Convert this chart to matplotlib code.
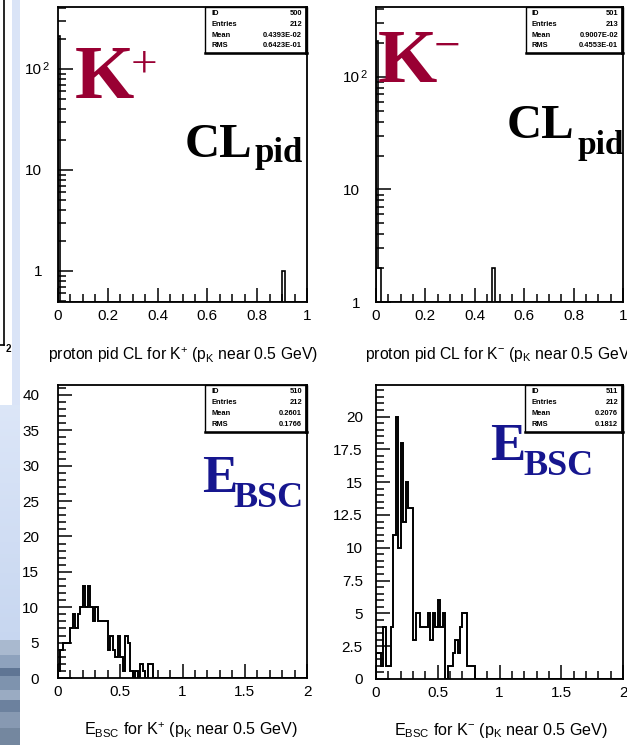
import numpy as np
import matplotlib
matplotlib.use("Agg")
import matplotlib.pyplot as plt
from matplotlib.patches import Rectangle
from matplotlib.lines import Line2D
from matplotlib.ticker import (FixedLocator, MultipleLocator, LogLocator,
                               FixedFormatter, NullFormatter, FuncFormatter)

plt.rcParams["font.family"] = ["Liberation Sans", "DejaVu Sans"]
plt.rcParams["mathtext.fontset"] = "custom"
plt.rcParams["mathtext.rm"] = "Liberation Sans"
plt.rcParams["mathtext.it"] = "Liberation Sans"
plt.rcParams["mathtext.bf"] = "Liberation Sans:bold"

W, H = 627, 745

# ---------------- histogram contents ----------------
# proton pid confidence level, 100 bins on [0, 1]
pid_nbins = 100
kp_pid_bins = [0, 90]
kp_pid_counts = [211, 1]
km_pid_bins = [0, 1, 47]
km_pid_counts = [209, 2, 2]

# barrel shower counter energy, 100 bins on [0, 2] (first 40 bins listed)
ebsc_nbins = 100
kp_ebsc_counts = [1, 4, 5, 5, 5, 7, 9, 7, 9, 10,
                  13, 10, 13, 10, 8, 10, 8, 8, 8, 8,
                  4, 6, 4, 3, 6, 3, 1, 6, 5, 1,
                  0, 1, 0, 2, 1, 0, 2, 2, 0, 0]
km_ebsc_counts = [2, 2, 1, 4, 1, 1, 4, 11, 20, 10,
                  18, 12, 15, 13, 13, 3, 5, 5, 4, 4,
                  4, 5, 3, 5, 4, 6, 4, 5, 0, 1,
                  1, 2, 3, 2, 4, 5, 5, 1, 1, 1]

# statistics boxes
stat_ids = ["500", "501", "510", "511"]
stat_entries = ["212", "213", "212", "212"]
stat_means = ["0.4393E-02", "0.9007E-02", "0.2601", "0.2076"]
stat_rms = ["0.6423E-01", "0.4553E-01", "0.1766", "0.1812"]

# axis labels
pid_xticks = [0, 0.2, 0.4, 0.6, 0.8, 1.0]
ebsc_xticks = [0, 0.5, 1, 1.5, 2]
kp_ebsc_yticks = [0, 5, 10, 15, 20, 25, 30, 35, 40]
km_ebsc_yticks = [0, 2.5, 5, 7.5, 10, 12.5, 15, 17.5, 20]
log_yticks = [1, 10, 100]
xlabels = ["proton pid CL for K$^{+}$ (p$_{K}$ near 0.5 GeV)",
           "proton pid CL for K$^{-}$ (p$_{K}$ near 0.5 GeV)",
           "E$_{BSC}$ for K$^{+}$ (p$_{K}$ near 0.5 GeV)",
           "E$_{BSC}$ for K$^{-}$ (p$_{K}$ near 0.5 GeV)"]

MAROON = "#990033"
NAVY = "#16168f"

fig = plt.figure(figsize=(W / 100, H / 100), dpi=100)
fig.patch.set_facecolor("white")


def fx(x):
    return x / W


def fy(y):
    return 1 - y / H


def frect(x0, y0, x1, y1, **kw):
    r = Rectangle((fx(x0), fy(y1)), (x1 - x0) / W, (y1 - y0) / H,
                  transform=fig.transFigure, **kw)
    fig.add_artist(r)
    return r


def fline(xs, ys, **kw):
    fig.add_artist(Line2D([fx(v) for v in xs], [fy(v) for v in ys],
                          transform=fig.transFigure, **kw))


# ---------------- slide background strip on the left ----------------
frect(12, 0, 20, 405, facecolor="#dae4f7", lw=0)
grad = np.linspace(0, 1, 60)
for i, g in enumerate(grad):
    y0 = 405 + i * (235 / 60)
    c = np.array([0.86, 0.90, 0.97]) * (1 - g) + np.array([0.78, 0.84, 0.94]) * g
    frect(0, y0, 20, y0 + 235 / 60 + 0.5, facecolor=c, lw=0)
photo_bands = [(640, 655, "#a9b9cf"), (655, 668, "#8ea2bd"), (668, 676, "#5f7594"),
               (676, 690, "#7e93ae"), (690, 700, "#9aabc2"), (700, 712, "#6c819e"),
               (712, 728, "#8799b2"), (728, 745, "#74879f")]
for y0, y1, c in photo_bands:
    frect(0, y0, 20, y1, facecolor=c, lw=0)
fline([4, 4], [0, 345], color="k", lw=1.2)
fline([0, 4], [345, 345], color="k", lw=1.2)
fig.text(fx(6), fy(352), "2", fontsize=7, fontweight="bold", ha="left", va="baseline")


# ---------------- panels ----------------
def panel(x0, y0, x1, y1):
    ax = fig.add_axes([fx(x0), fy(y1), (x1 - x0) / W, (y1 - y0) / H])
    for s in ax.spines.values():
        s.set_linewidth(1.3)
    ax.tick_params(which="both", direction="in", top=False, right=False,
                   width=1.1, labelsize=11, colors="k")
    ax.tick_params(which="major", length=10)
    ax.tick_params(which="minor", length=6)
    ax.set_facecolor("white")
    return ax


def gfmt(v, pos=None):
    return "%g" % v


def stats_box(x0, y0, x1, y1, idx):
    frect(x0, y0, x1, y1, facecolor="white", edgecolor="k", lw=1.0, zorder=5)
    fline([x1 - 1, x1 - 1], [y0, y1], color="k", lw=2.0, zorder=6)
    fline([x0, x1], [y1 - 0.5, y1 - 0.5], color="k", lw=1.8, zorder=6)
    rows = [("ID", stat_ids[idx]), ("Entries", stat_entries[idx]),
            ("Mean", stat_means[idx]), ("RMS", stat_rms[idx])]
    step = (y1 - y0) / 4.3
    for i, (k, v) in enumerate(rows):
        yy = y0 + step * (i + 0.62)
        fig.text(fx(x0 + 6), fy(yy), k, fontsize=5.4, fontweight="bold",
                 ha="left", va="center", zorder=7)
        fig.text(fx(x1 - 5), fy(yy), v, fontsize=5.4, fontweight="bold",
                 ha="right", va="center", zorder=7)


def fill(nbins, bins, counts):
    out = np.zeros(nbins)
    out[np.asarray(bins)] = counts
    return out


pid_edges = np.linspace(0.0, 1.0, pid_nbins + 1)
ebsc_edges = np.linspace(0.0, 2.0, ebsc_nbins + 1)

# --- top left: pid CL for K+ (log) ---
ax1 = panel(58, 7, 307, 302)
ax1.set_yscale("log")
lo1, hi1 = 0.493, 411
h = fill(pid_nbins, kp_pid_bins, kp_pid_counts)
ax1.stairs(np.where(h > 0, h, lo1), pid_edges, baseline=lo1, color="k", lw=1.2)
ax1.set_ylim(lo1, hi1)

# --- top right: pid CL for K- (log) ---
ax2 = panel(376, 7, 623, 302)
ax2.set_yscale("log")
lo2, hi2 = 1.0, 418
h = fill(pid_nbins, km_pid_bins, km_pid_counts)
ax2.stairs(np.where(h > 0, h, lo2), pid_edges, baseline=lo2, color="k", lw=1.2)
ax2.set_ylim(lo2, hi2)

for ax in (ax1, ax2):
    ax.set_xlim(0, 1)
    ax.xaxis.set_major_locator(FixedLocator(pid_xticks))
    ax.xaxis.set_minor_locator(MultipleLocator(0.05))
    ax.xaxis.set_major_formatter(FuncFormatter(gfmt))
    ax.yaxis.set_major_locator(FixedLocator(log_yticks))
    ax.yaxis.set_minor_locator(LogLocator(base=10, subs=np.arange(2, 10)))
    ax.yaxis.set_major_formatter(FixedFormatter(["1", "10", "10"]))
    ax.yaxis.set_minor_formatter(NullFormatter())
    ax.tick_params(axis="x", pad=5)
    ax.tick_params(axis="y", which="major", length=11, pad=11.5)

# --- bottom left: E_BSC for K+ ---
ax3 = panel(58, 385, 307, 678)
h = fill(ebsc_nbins, np.arange(len(kp_ebsc_counts)), kp_ebsc_counts)
ax3.stairs(h, ebsc_edges, baseline=0, color="k", lw=1.4)
ax3.set_ylim(0, 41.4)
ax3.yaxis.set_major_locator(FixedLocator(kp_ebsc_yticks))
ax3.yaxis.set_minor_locator(MultipleLocator(1))
ax3.tick_params(axis="y", pad=13.5)

# --- bottom right: E_BSC for K- ---
ax4 = panel(376, 385, 623, 679)
h = fill(ebsc_nbins, np.arange(len(km_ebsc_counts)), km_ebsc_counts)
ax4.stairs(h, ebsc_edges, baseline=0, color="k", lw=1.4)
ax4.set_ylim(0, 22.4)
ax4.yaxis.set_major_locator(FixedLocator(km_ebsc_yticks))
ax4.yaxis.set_minor_locator(MultipleLocator(0.5))
ax4.tick_params(axis="y", pad=9.5)

for ax in (ax3, ax4):
    ax.set_xlim(0, 2)
    ax.xaxis.set_major_locator(FixedLocator(ebsc_xticks))
    ax.xaxis.set_minor_locator(MultipleLocator(0.1))
    ax.xaxis.set_major_formatter(FuncFormatter(gfmt))
    ax.yaxis.set_major_formatter(FuncFormatter(gfmt))
    ax.tick_params(axis="x", pad=5)

# superscript of the 10^2 labels
fig.text(fx(42.5), fy(70), "2", fontsize=8, ha="left", va="baseline")
fig.text(fx(360.5), fy(78), "2", fontsize=8, ha="left", va="baseline")

# statistics boxes
stats_box(205, 7, 307, 53, 0)
stats_box(526, 7, 623, 53, 1)
stats_box(205, 385, 307, 432, 2)
stats_box(525, 385, 623, 432, 3)

# x-axis titles
fig.text(fx(183), fy(355), xlabels[0], fontsize=11.3, ha="center", va="center")
fig.text(fx(365), fy(355), xlabels[1], fontsize=11.3, ha="left", va="center")
fig.text(fx(191), fy(730), xlabels[2], fontsize=11.6, ha="center", va="center")
fig.text(fx(501), fy(730), xlabels[3], fontsize=11.6, ha="center", va="center")

# large slide annotations
serif = "Liberation Serif"
fig.text(fx(75), fy(98), "K", fontsize=55, fontfamily=serif, fontweight="bold",
         color=MAROON, ha="left", va="baseline")
fig.text(fx(131), fy(77), "+", fontsize=34, fontfamily=serif,
         color=MAROON, ha="left", va="baseline")
fig.text(fx(378), fy(82), "K", fontsize=55, fontfamily=serif, fontweight="bold",
         color=MAROON, ha="left", va="baseline")
fig.text(fx(434), fy(60), "\u2212", fontsize=34, fontfamily=serif,
         color=MAROON, ha="left", va="baseline")

fig.text(fx(185), fy(157), "CL", fontsize=35, fontfamily=serif, fontweight="bold",
         color="k", ha="left", va="baseline")
fig.text(fx(254), fy(162), "pid", fontsize=25, fontfamily=serif, fontweight="bold",
         color="k", ha="left", va="baseline")
fig.text(fx(507), fy(138), "CL", fontsize=35, fontfamily=serif, fontweight="bold",
         color="k", ha="left", va="baseline")
fig.text(fx(578), fy(154), "pid", fontsize=24, fontfamily=serif, fontweight="bold",
         color="k", ha="left", va="baseline")

fig.text(fx(202), fy(492), "E", fontsize=38, fontfamily=serif, fontweight="bold",
         color=NAVY, ha="left", va="baseline")
fig.text(fx(233), fy(507), "BSC", fontsize=26, fontfamily=serif, fontweight="bold",
         color=NAVY, ha="left", va="baseline")
fig.text(fx(490), fy(460), "E", fontsize=38, fontfamily=serif, fontweight="bold",
         color=NAVY, ha="left", va="baseline")
fig.text(fx(523), fy(475), "BSC", fontsize=26, fontfamily=serif, fontweight="bold",
         color=NAVY, ha="left", va="baseline")

fig.savefig("out.png", dpi=100, facecolor="white")
